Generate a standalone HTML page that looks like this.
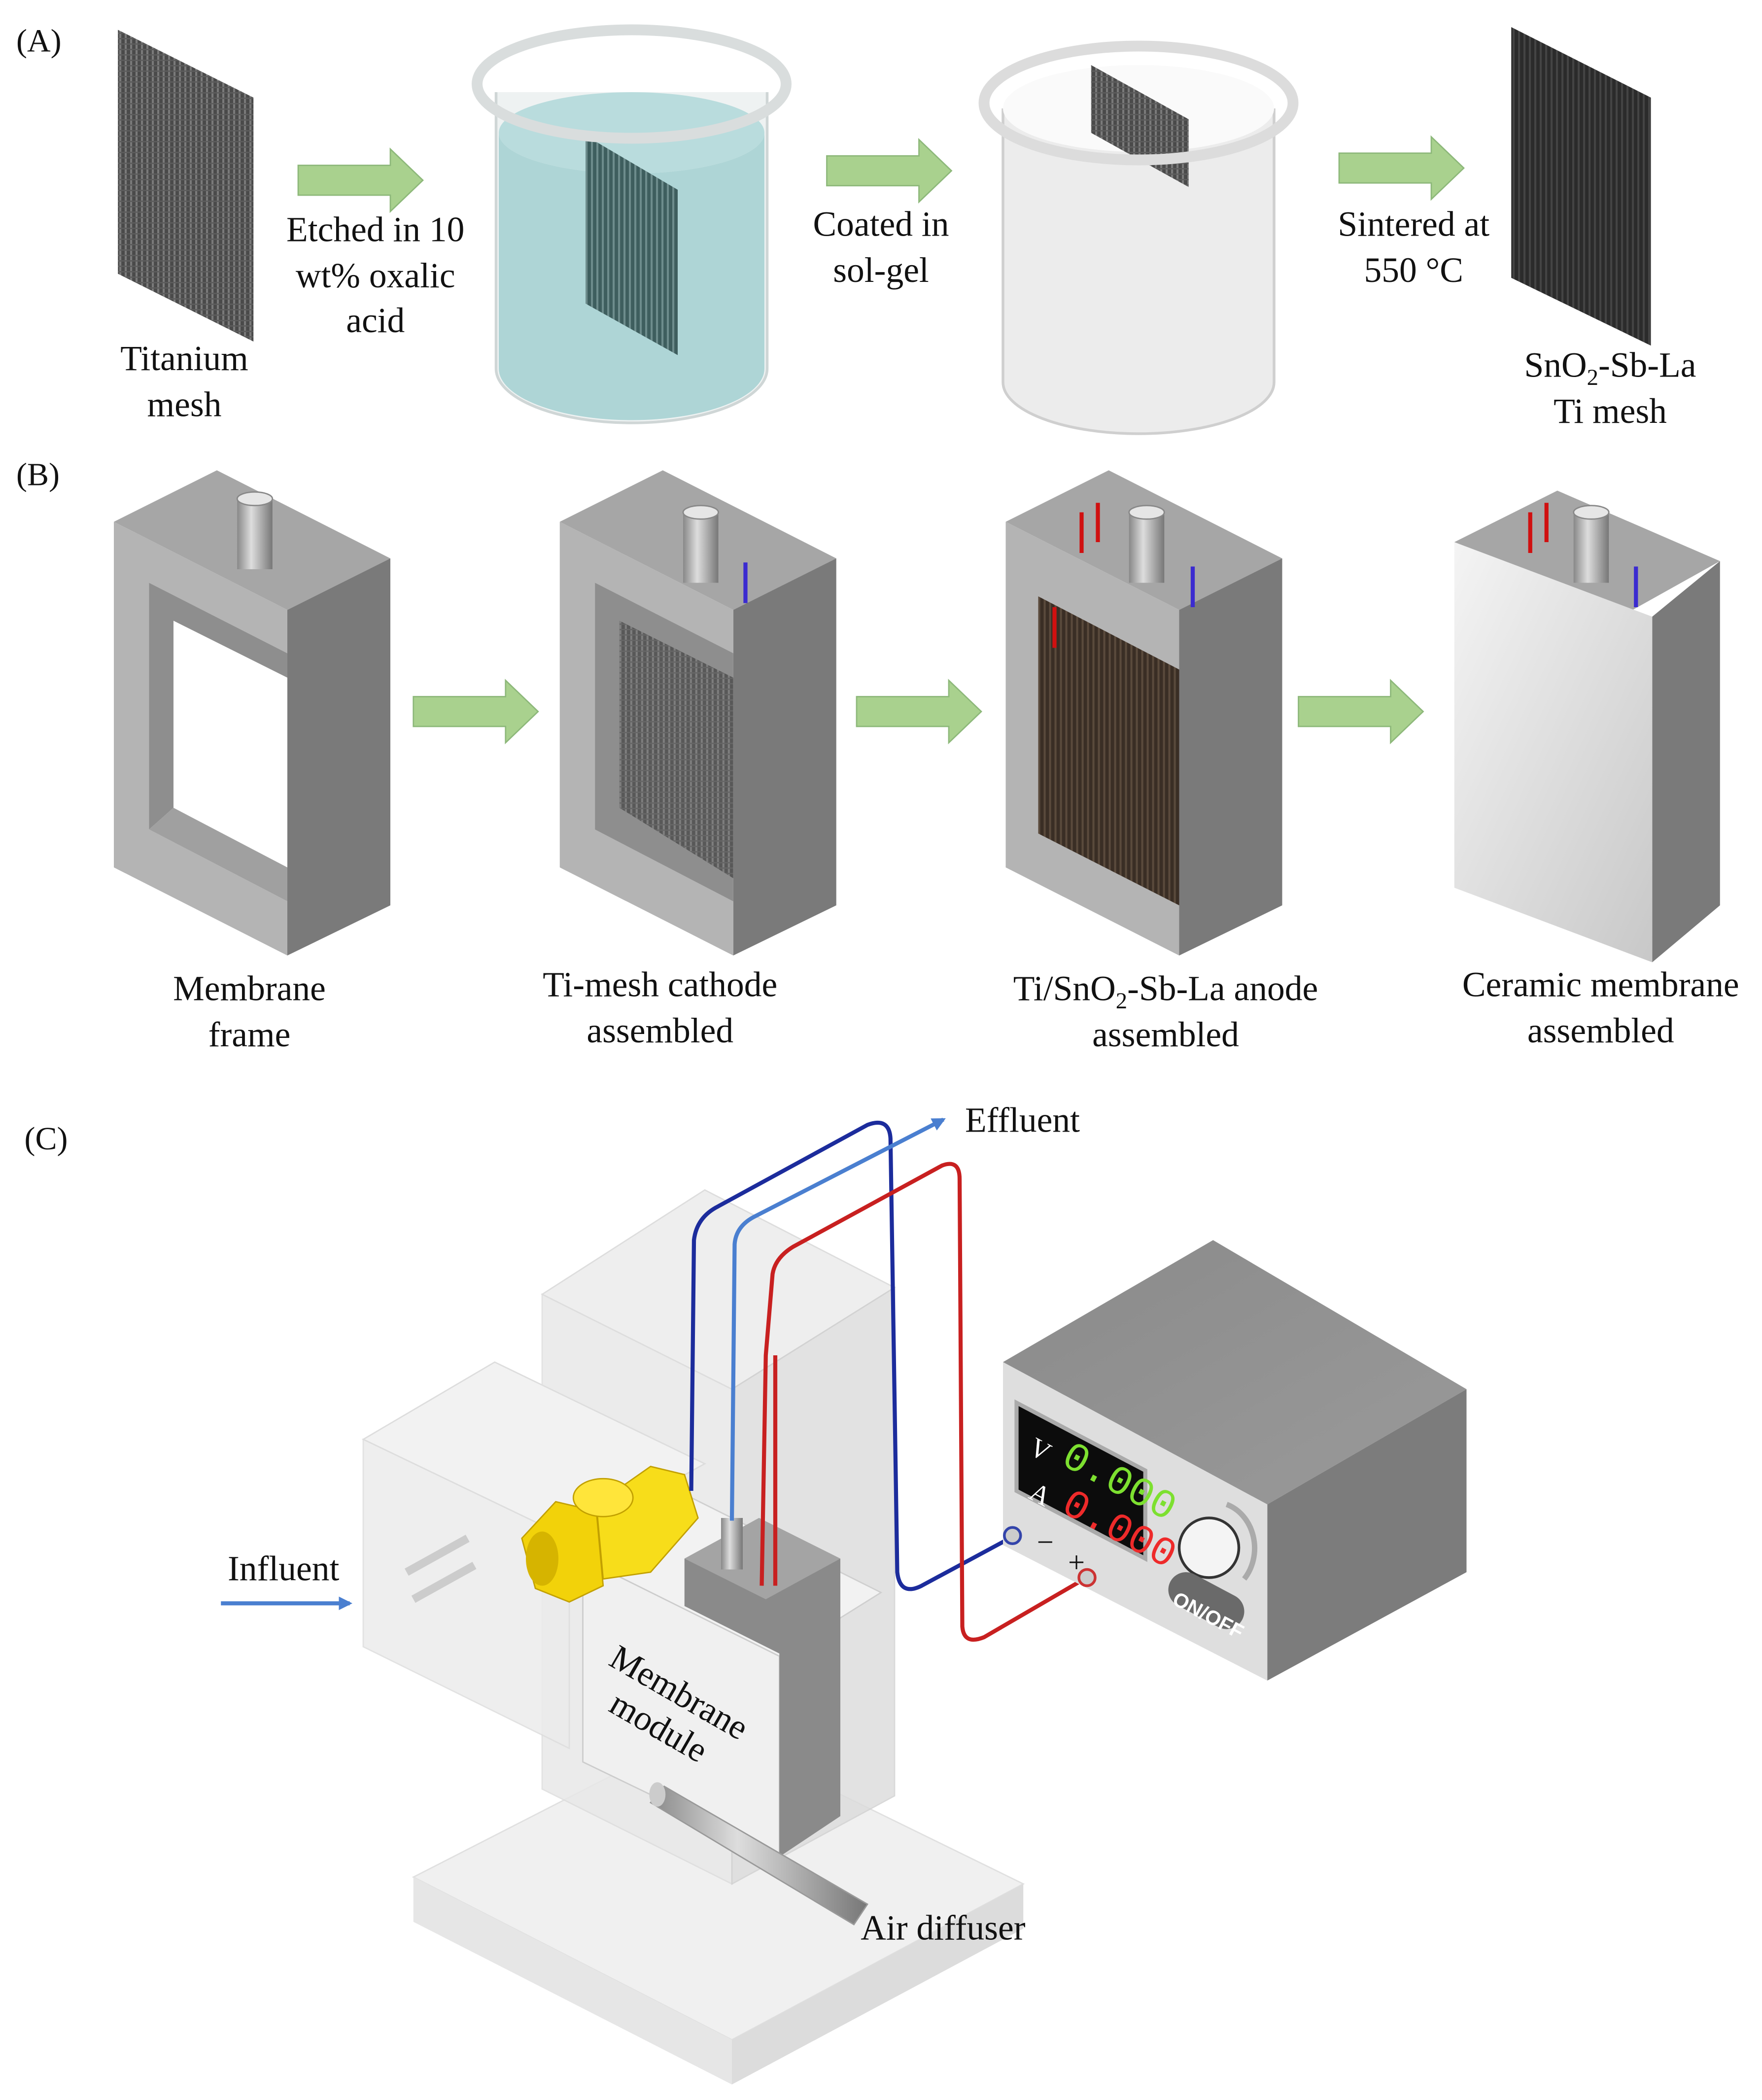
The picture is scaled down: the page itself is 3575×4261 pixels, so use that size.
<!DOCTYPE html>
<html><head><meta charset="utf-8">
<style>
html,body{margin:0;padding:0;background:#fff;}
svg{display:block;}
text{font-family:"Liberation Serif",serif;fill:#111;}
</style></head>
<body>
<svg width="3575" height="4261" viewBox="0 0 1300 1549.45" xmlns="http://www.w3.org/2000/svg">
<defs>
<pattern id="mesh" width="4" height="4" patternUnits="userSpaceOnUse">
<rect width="4" height="4" fill="#4a4a4a"/><rect width="1.5" height="4" fill="#7a7a7a"/><rect width="4" height="1" fill="#5c5c5c"/>
</pattern>
<pattern id="meshd" width="4" height="4" patternUnits="userSpaceOnUse">
<rect width="4" height="4" fill="#2b2b2b"/><rect width="1.5" height="4" fill="#444"/>
</pattern>
<pattern id="meshb" width="4" height="4" patternUnits="userSpaceOnUse">
<rect width="4" height="4" fill="#3a2e25"/><rect width="1.5" height="4" fill="#5a4a3c"/>
</pattern>
<pattern id="mesht" width="4" height="4" patternUnits="userSpaceOnUse">
<rect width="4" height="4" fill="#3e5e5e"/><rect width="1.5" height="4" fill="#6d8c8c"/>
</pattern>
<linearGradient id="ceram" x1="0" y1="0" x2="1" y2="1">
<stop offset="0" stop-color="#f4f4f4"/><stop offset="1" stop-color="#c8c8c8"/></linearGradient>
<linearGradient id="pipe" x1="0" y1="0" x2="1" y2="0">
<stop offset="0" stop-color="#888"/><stop offset="0.4" stop-color="#ddd"/><stop offset="1" stop-color="#777"/></linearGradient>
<linearGradient id="psTop" x1="0" y1="0" x2="1" y2="1">
<stop offset="0" stop-color="#8a8a8a"/><stop offset="1" stop-color="#9a9a9a"/></linearGradient>
<marker id="ab" markerWidth="10" markerHeight="10" refX="8" refY="5" orient="auto" markerUnits="userSpaceOnUse">
<path d="M0,0 L10,5 L0,10 z" fill="#4a7fd0"/></marker>
</defs>

<!-- ===== (A) ===== -->
<text x="12" y="38" font-size="24">(A)</text>
<polygon points="87,22 187,72 187,252 87,202" fill="url(#mesh)"/>
<text x="136" y="273" font-size="26" text-anchor="middle">Titanium</text>
<text x="136" y="307" font-size="26" text-anchor="middle">mesh</text>

<g fill="#a9d18e" stroke="#8db87a" stroke-width="1">
<polygon points="220,122 288,122 288,110 312,133 288,156 288,144 220,144"/>
<polygon points="610,115 678,115 678,103 702,126 678,149 678,137 610,137"/>
<polygon points="988,113 1056,113 1056,101 1080,124 1056,147 1056,135 988,135"/>
</g>
<text x="277" y="178" font-size="26" text-anchor="middle">Etched in 10</text>
<text x="277" y="212" font-size="26" text-anchor="middle">wt% oxalic</text>
<text x="277" y="245" font-size="26" text-anchor="middle">acid</text>
<text x="650" y="174" font-size="26" text-anchor="middle">Coated in</text>
<text x="650" y="208" font-size="26" text-anchor="middle">sol-gel</text>
<text x="1043" y="174" font-size="26" text-anchor="middle">Sintered at</text>
<text x="1043" y="208" font-size="26" text-anchor="middle">550 °C</text>

<!-- beaker 1 -->
<path d="M366,68 L366,272 A100,40 0 0 0 566,272 L566,68" fill="#eef2f2" stroke="#cfd6d6" stroke-width="2"/>
<path d="M368,98 L368,272 A98,38 0 0 0 564,272 L564,98 A98,30 0 0 1 368,98 z" fill="#a6d1d3" opacity="0.9"/>
<ellipse cx="466" cy="98" rx="98" ry="30" fill="#b9dcdd"/>
<polygon points="432,100 500,140 500,262 432,224" fill="url(#mesht)"/>
<ellipse cx="466" cy="62" rx="114" ry="40" fill="none" stroke="#d9dddd" stroke-width="8"/>
<!-- beaker 2 -->
<path d="M740,80 L740,282 A100,38 0 0 0 940,282 L940,80" fill="#ececec" stroke="#cfcfcf" stroke-width="2"/>
<ellipse cx="840" cy="80" rx="100" ry="32" fill="#fafafa"/>
<polygon points="805,48 877,88 877,138 805,98" fill="url(#mesh)"/>
<ellipse cx="840" cy="76" rx="114" ry="42" fill="none" stroke="#dcdcdc" stroke-width="8"/>

<polygon points="1115,20 1218,72 1218,255 1115,205" fill="url(#meshd)"/>
<text x="1188" y="278" font-size="26" text-anchor="middle">SnO<tspan font-size="17" dy="6">2</tspan><tspan dy="-6">-Sb-La</tspan></text>
<text x="1188" y="312" font-size="26" text-anchor="middle">Ti mesh</text>

<!-- ===== (B) ===== -->
<text x="12" y="358" font-size="24">(B)</text>
<g fill="#a9d18e" stroke="#8db87a" stroke-width="1">
<polygon points="305,514 373,514 373,502 397,525 373,548 373,536 305,536"/>
<polygon points="632,514 700,514 700,502 724,525 700,548 700,536 632,536"/>
<polygon points="958,514 1026,514 1026,502 1050,525 1026,548 1026,536 958,536"/>
</g>

<!-- frame generic -->
<g id="fr1">
<polygon points="84,385 160,347 288,412 212,450" fill="#a6a6a6"/>
<polygon points="212,450 288,412 288,668 212,705" fill="#7a7a7a"/>
<polygon points="84,385 212,450 212,705 84,640" fill="#b4b4b4"/>
</g>
<polygon points="110,430 212,482 212,665 110,612" fill="#fff"/>
<polygon points="110,430 212,482 212,500 128,458 128,596 110,612" fill="#8e8e8e"/>
<polygon points="110,612 128,596 212,640 212,665" fill="#a0a0a0"/>
<rect x="175" y="368" width="26" height="52" fill="url(#pipe)"/><ellipse cx="188" cy="368" rx="13" ry="5" fill="#e6e6e6" stroke="#888"/>

<g transform="translate(329,0)">
<polygon points="84,385 160,347 288,412 212,450" fill="#a6a6a6"/>
<polygon points="212,450 288,412 288,668 212,705" fill="#7a7a7a"/>
<polygon points="84,385 212,450 212,705 84,640" fill="#b4b4b4"/>
<polygon points="110,430 212,482 212,665 110,612" fill="#8e8e8e"/>
<polygon points="128,458 212,500 212,648 128,596" fill="url(#mesh)" opacity="0.8"/>
<rect x="175" y="378" width="26" height="52" fill="url(#pipe)"/><ellipse cx="188" cy="378" rx="13" ry="5" fill="#e6e6e6" stroke="#888"/>
<line x1="221" y1="415" x2="221" y2="445" stroke="#3b2bd0" stroke-width="3"/>
</g>
<text x="184" y="738" font-size="26" text-anchor="middle">Membrane</text>
<text x="184" y="772" font-size="26" text-anchor="middle">frame</text>
<text x="487" y="735" font-size="26" text-anchor="middle">Ti-mesh cathode</text>
<text x="487" y="769" font-size="26" text-anchor="middle">assembled</text>

<g transform="translate(658,0)">
<polygon points="84,385 160,347 288,412 212,450" fill="#a6a6a6"/>
<polygon points="212,450 288,412 288,668 212,705" fill="#7a7a7a"/>
<polygon points="84,385 212,450 212,705 84,640" fill="#b4b4b4"/>
<polygon points="108,440 212,494 212,668 108,615" fill="url(#meshb)"/>
<rect x="175" y="378" width="26" height="52" fill="url(#pipe)"/><ellipse cx="188" cy="378" rx="13" ry="5" fill="#e6e6e6" stroke="#888"/>
<line x1="222" y1="418" x2="222" y2="448" stroke="#3b2bd0" stroke-width="3"/>
<line x1="140" y1="378" x2="140" y2="408" stroke="#d01010" stroke-width="3"/>
<line x1="152" y1="371" x2="152" y2="400" stroke="#d01010" stroke-width="3"/>
<line x1="120" y1="448" x2="120" y2="478" stroke="#d01010" stroke-width="3"/>
</g>
<text x="860" y="738" font-size="26" text-anchor="middle">Ti/SnO<tspan font-size="17" dy="6">2</tspan><tspan dy="-6">-Sb-La anode</tspan></text>
<text x="860" y="772" font-size="26" text-anchor="middle">assembled</text>

<g transform="translate(989,0)">
<polygon points="84,400 160,362 280,414 212,452" fill="#a6a6a6"/>
<polygon points="230,455 280,414 280,668 230,710" fill="#7a7a7a"/>
<polygon points="84,400 230,455 230,710 84,655" fill="url(#ceram)"/>
<rect x="172" y="378" width="26" height="52" fill="url(#pipe)"/><ellipse cx="185" cy="378" rx="13" ry="5" fill="#e6e6e6" stroke="#888"/>
<line x1="218" y1="418" x2="218" y2="448" stroke="#3b2bd0" stroke-width="3"/>
<line x1="140" y1="378" x2="140" y2="408" stroke="#d01010" stroke-width="3"/>
<line x1="152" y1="371" x2="152" y2="400" stroke="#d01010" stroke-width="3"/>
</g>
<text x="1181" y="735" font-size="26" text-anchor="middle">Ceramic membrane</text>
<text x="1181" y="769" font-size="26" text-anchor="middle">assembled</text>

<!-- ===== (C) ===== -->
<text x="18" y="848" font-size="24">(C)</text>
<!-- base plate -->
<polygon points="305,1385 520,1275 755,1390 540,1505" fill="#f0f0f0" stroke="#e0e0e0"/>
<polygon points="305,1385 540,1505 540,1538 305,1418" fill="#e6e6e6"/>
<polygon points="540,1505 755,1390 755,1423 540,1538" fill="#dcdcdc"/>
<!-- tall column -->
<polygon points="400,955 520,878 660,950 540,1025" fill="#eeeeee" stroke="#dddddd"/>
<polygon points="400,955 540,1025 540,1390 400,1320" fill="#e8e8e8" opacity="0.85" stroke="#dddddd"/>
<polygon points="540,1025 660,950 660,1325 540,1390" fill="#dcdcdc" opacity="0.8" stroke="#d0d0d0"/>
<!-- side tank -->
<polygon points="268,1062 365,1005 520,1080 420,1135" fill="#f2f2f2" stroke="#dddddd"/>
<polygon points="268,1062 420,1135 420,1290 268,1215" fill="#ececec" opacity="0.85" stroke="#dddddd"/>
<line x1="300" y1="1160" x2="345" y2="1135" stroke="#ccc" stroke-width="6"/>
<line x1="305" y1="1180" x2="350" y2="1155" stroke="#ccc" stroke-width="6"/>
<!-- membrane module -->
<polygon points="430,1150 510,1105 650,1175 570,1225" fill="#f2f2f2" stroke="#cfcfcf"/>
<polygon points="430,1150 575,1222 575,1370 430,1300" fill="#f0f0f0" stroke="#cccccc"/>
<polygon points="505,1150 560,1120 620,1150 620,1340 575,1370 575,1220 505,1185" fill="#8a8a8a"/>
<polygon points="505,1150 560,1120 620,1150 565,1180" fill="#a4a4a4"/>
<rect x="532" y="1120" width="16" height="38" fill="url(#pipe)"/>
<text font-size="26" transform="translate(448,1228) rotate(30)">Membrane</text>
<text font-size="26" transform="translate(448,1262) rotate(30)">module</text>
<!-- valve -->
<polygon points="385,1135 410,1108 440,1115 445,1170 420,1182 395,1172" fill="#f2d20a" stroke="#c2a000"/>
<polygon points="440,1110 480,1082 505,1088 515,1120 480,1160 445,1165" fill="#f7dd1a" stroke="#c2a000"/>
<ellipse cx="445" cy="1105" rx="22" ry="14" fill="#ffe53a" stroke="#c2a000"/>
<ellipse cx="400" cy="1150" rx="12" ry="20" fill="#d6b400"/>
<!-- air diffuser -->
<polygon points="480,1330 490,1318 640,1405 630,1420" fill="url(#pipe)" stroke="#999"/>
<ellipse cx="485" cy="1324" rx="6" ry="9" fill="#ccc"/>
<text x="635" y="1431" font-size="26">Air diffuser</text>
<!-- influent -->
<line x1="163" y1="1183" x2="258" y2="1183" stroke="#4a7fd0" stroke-width="3" marker-end="url(#ab)"/>
<text x="168" y="1166" font-size="26">Influent</text>

<!-- wires -->
<path d="M510,1100 L512,915 Q514,898 530,890 L640,830 Q656,824 657,840 L662,1160 Q664,1178 680,1170 L745,1135" fill="none" stroke="#1c2c9c" stroke-width="3"/>
<path d="M540,1122 L542,918 Q543,905 556,898 L696,826" fill="none" stroke="#4a7fd0" stroke-width="3" marker-end="url(#ab)"/>
<path d="M562,1170 L565,1000 L570,940 Q572,928 585,920 L695,860 Q708,855 708,870 L710,1200 Q711,1214 726,1208 L800,1165" fill="none" stroke="#c82020" stroke-width="3"/>
<line x1="572" y1="1000" x2="572" y2="1170" stroke="#c82020" stroke-width="3"/>
<text x="712" y="835" font-size="26">Effluent</text>

<!-- power supply -->
<polygon points="740,1005 895,915 1082,1025 935,1110" fill="url(#psTop)"/>
<polygon points="935,1110 1082,1025 1082,1160 935,1240" fill="#7c7c7c"/>
<polygon points="740,1005 935,1110 935,1240 740,1140" fill="#dedede"/>
<polygon points="750,1035 845,1085 845,1150 750,1100" fill="#0c0c0c" stroke="#aaa" stroke-width="3"/>
<text font-size="30" fill="#7de030" style="fill:#7de030;font-family:'Liberation Mono',monospace" transform="translate(782,1080) rotate(28) skewX(0)">0.000</text>
<text font-size="30" style="fill:#ee2a2a;font-family:'Liberation Mono',monospace" transform="translate(782,1115) rotate(28)">0.000</text>
<text font-size="20" style="fill:#fff" transform="translate(758,1072) rotate(28)">V</text>
<text font-size="20" style="fill:#fff" transform="translate(758,1105) rotate(28)">A</text>
<circle cx="892" cy="1142" r="22" fill="#f4f4f4" stroke="#333" stroke-width="2"/>
<path d="M905,1110 A30,34 0 0 1 918,1165" fill="none" stroke="#aaa" stroke-width="4"/>
<rect x="860" y="1168" width="60" height="26" rx="13" fill="#6a6a6a" transform="rotate(28 890 1181)"/>
<text font-size="15" style="fill:#fff;font-family:'Liberation Sans',sans-serif;font-weight:bold" transform="translate(864,1183) rotate(28)">ON/OFF</text>
<circle cx="747" cy="1133" r="6" fill="#ccc" stroke="#3344aa" stroke-width="2"/>
<circle cx="802" cy="1164" r="6" fill="#ccc" stroke="#cc3333" stroke-width="2"/>
<text x="765" y="1145" font-size="22">−</text>
<text x="788" y="1160" font-size="22">+</text>
</svg>
</body></html>
